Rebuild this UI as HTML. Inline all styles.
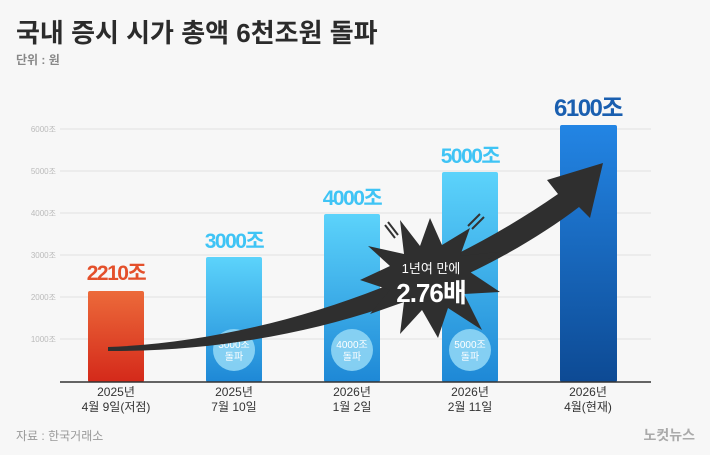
<!DOCTYPE html>
<html><head><meta charset="utf-8"><style>
body{margin:0;width:710px;height:450px;overflow:hidden;background:#f7f7f7;font-family:"Liberation Sans","Noto Sans CJK KR",sans-serif;}
</style></head><body>
<svg width="710" height="450" xmlns="http://www.w3.org/2000/svg" style="font-family:'Liberation Sans','Noto Sans CJK KR',sans-serif">
<defs>
<linearGradient id="r" x1="0" y1="0" x2="0" y2="1"><stop offset="0" stop-color="#ec6a3a"/><stop offset="1" stop-color="#d4291a"/></linearGradient>
<linearGradient id="b" x1="0" y1="0" x2="0" y2="1"><stop offset="0" stop-color="#5cd3fb"/><stop offset="1" stop-color="#1e88d6"/></linearGradient>
<linearGradient id="d" x1="0" y1="0" x2="0" y2="1"><stop offset="0" stop-color="#2385e4"/><stop offset="1" stop-color="#0d4a94"/></linearGradient>
</defs>
<rect width="710" height="450" fill="#f7f7f7"/>
<text x="16" y="42" font-size="26" font-weight="bold" fill="#2b2b2b">국내 증시 시가 총액 6천조원 돌파</text>
<text x="16" y="64" font-size="12" font-weight="bold" fill="#888">단위 : 원</text>
<g stroke="#e2e2e2" stroke-width="1">
<line x1="60" y1="129" x2="651" y2="129"/><line x1="60" y1="171" x2="651" y2="171"/><line x1="60" y1="213" x2="651" y2="213"/><line x1="60" y1="255" x2="651" y2="255"/><line x1="60" y1="297" x2="651" y2="297"/><line x1="60" y1="339" x2="651" y2="339"/>
</g>
<g font-size="8" fill="#bbb" text-anchor="end">
<text x="56" y="132">6000조</text><text x="56" y="174">5000조</text><text x="56" y="216">4000조</text><text x="56" y="258">3000조</text><text x="56" y="300">2000조</text><text x="56" y="342">1000조</text>
</g>
<rect x="88" y="291" width="56" height="91" rx="2" fill="url(#r)"/>
<rect x="206" y="257" width="56" height="125" rx="2" fill="url(#b)"/>
<rect x="324" y="214" width="56" height="168" rx="2" fill="url(#b)"/>
<rect x="442" y="172" width="56" height="210" rx="2" fill="url(#b)"/>
<rect x="560" y="125" width="57" height="257" rx="2" fill="url(#d)"/>
<line x1="60" y1="382" x2="651" y2="382" stroke="#333" stroke-width="1.5"/>
<g font-size="21" font-weight="bold" text-anchor="middle" letter-spacing="-1.5">
<text x="116" y="280" fill="#e4502b">2210조</text>
<text x="234" y="248" fill="#3fc4f5">3000조</text>
<text x="352" y="205" fill="#3fc4f5">4000조</text>
<text x="470" y="163" fill="#3fc4f5">5000조</text>
<text x="588" y="116" fill="#1a5fb0" font-size="24">6100조</text>
</g>
<g fill="#8fd6f5" opacity="0.9">
<circle cx="234" cy="350" r="21"/><circle cx="352" cy="350" r="21"/><circle cx="470" cy="350" r="21"/>
</g>
<g font-size="10" fill="#fff" text-anchor="middle">
<text x="234" y="348">3000조</text><text x="234" y="360">돌파</text>
<text x="352" y="348">4000조</text><text x="352" y="360">돌파</text>
<text x="470" y="348">5000조</text><text x="470" y="360">돌파</text>
</g>
<path d="M108 347 C250 342 420 290 558 194 L547 180 L603 163 L590 218 L579 207 C470 290 300 352 108 351 Z" fill="#2f2f2f"/>
<path d="M430 218 L442 245 L470 228 L460 256 L498 252 L470 272 L500 292 L464 294 L482 330 L448 308 L438 338 L422 310 L400 334 L404 302 L370 314 L390 290 L360 280 L390 266 L368 246 L404 254 L400 220 L420 246 Z" fill="#2f2f2f"/>
<path d="M385 225 L395 238 M388 222 L398 235 M468 226 L480 214 M472 229 L484 217" stroke="#333" stroke-width="2"/>
<text x="431" y="273" font-size="13" fill="#fff" text-anchor="middle">1년여 만에</text>
<text x="431" y="302" font-size="26" font-weight="bold" fill="#fff" text-anchor="middle" letter-spacing="-1">2.76배</text>
<g font-size="12" fill="#333" text-anchor="middle">
<text x="116" y="396">2025년</text><text x="116" y="411">4월 9일(저점)</text>
<text x="234" y="396">2025년</text><text x="234" y="411">7월 10일</text>
<text x="352" y="396">2026년</text><text x="352" y="411">1월 2일</text>
<text x="470" y="396">2026년</text><text x="470" y="411">2월 11일</text>
<text x="588" y="396">2026년</text><text x="588" y="411">4월(현재)</text>
</g>
<text x="16" y="440" font-size="12" fill="#999">자료 : 한국거래소</text>
<text x="695" y="440" font-size="14" font-weight="bold" fill="#aaa" text-anchor="end">노컷뉴스</text>
</svg>
</body></html>
